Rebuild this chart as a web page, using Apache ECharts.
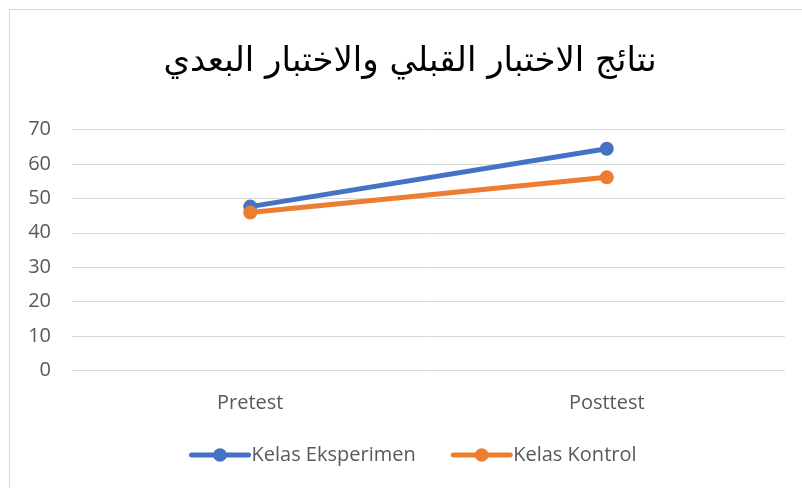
<!DOCTYPE html>
<html>
<head>
<meta charset="utf-8">
<script src="https://cdn.jsdelivr.net/npm/echarts@6/dist/echarts.min.js"></script>
<style>
   html, body { margin: 0; padding: 0; background: #ffffff; }
   #grafica { width: 802px; height: 488px; }
</style>
</head>
<body>
<div id="grafica"></div>
<script>
// ── Datos ──────────────────────────────────────────────────────────────
const categorias = ["Pretest", "Posttest"];
const valoresEksperimen = [47.6, 64.4];
const valoresKontrol = [45.9, 56.1];
const marcasEje = [0, 10, 20, 30, 40, 50, 60, 70];

const colores = {
   azul: "#4472c4",
   naranja: "#ed7d31",
   texto: "#595959",
   grid: "#d9d9d9",
   borde: "#d9d9d9"
};

const fuente = "'Open Sans', 'Noto Sans', sans-serif";

const grafica = echarts.init(document.getElementById("grafica"));

const serieLinea = (nombre, datos, color) => ({
   name: nombre,
   type: "line",
   data: datos,
   symbol: "circle",
   symbolSize: 14,
   lineStyle: { color: color, width: 5 },
   itemStyle: { color: color },
   animation: false
});

grafica.setOption({
   backgroundColor: "#ffffff",
   animation: false,
   graphic: [{
      type: "rect",
      shape: { x: 9.5, y: 9.5, width: 800, height: 490 },
      style: { fill: "none", stroke: colores.borde, lineWidth: 1 }
   }],
   title: {
      text: "نتائج الاختبار القبلي والاختبار البعدي",
      left: 405,
      textAlign: "center",
      top: 40,
      textStyle: { fontFamily: "'DejaVu Sans', sans-serif", fontSize: 34, fontWeight: "normal", color: "#000000" }
   },
   legend: {
      top: 440,
      left: 184,
      itemWidth: 57,
      itemHeight: 17,
      itemGap: 35,
      lineStyle: { width: 5, cap: "round" },
      textStyle: { fontFamily: fuente, fontSize: 20, color: colores.texto, padding: [0, 0, 0, -2] },
      data: ["Kelas Eksperimen", "Kelas Kontrol"]
   },
   grid: { left: 72, right: 17, top: 129.5, bottom: 117.5 },
   xAxis: {
      type: "category",
      data: categorias,
      boundaryGap: true,
      axisLine: { show: false },
      axisTick: { show: false },
      axisLabel: { fontFamily: fuente, fontSize: 20, color: colores.texto, margin: 23 }
   },
   yAxis: {
      type: "value",
      min: marcasEje[0],
      max: marcasEje[marcasEje.length - 1],
      interval: 10,
      axisLine: { show: false },
      axisTick: { show: false },
      axisLabel: { fontFamily: fuente, fontSize: 20, color: colores.texto, margin: 21 },
      splitLine: { lineStyle: { color: colores.grid, width: 1 } }
   },
   series: [
      serieLinea("Kelas Eksperimen", valoresEksperimen, colores.azul),
      serieLinea("Kelas Kontrol", valoresKontrol, colores.naranja)
   ]
});
</script>
</body>
</html>
